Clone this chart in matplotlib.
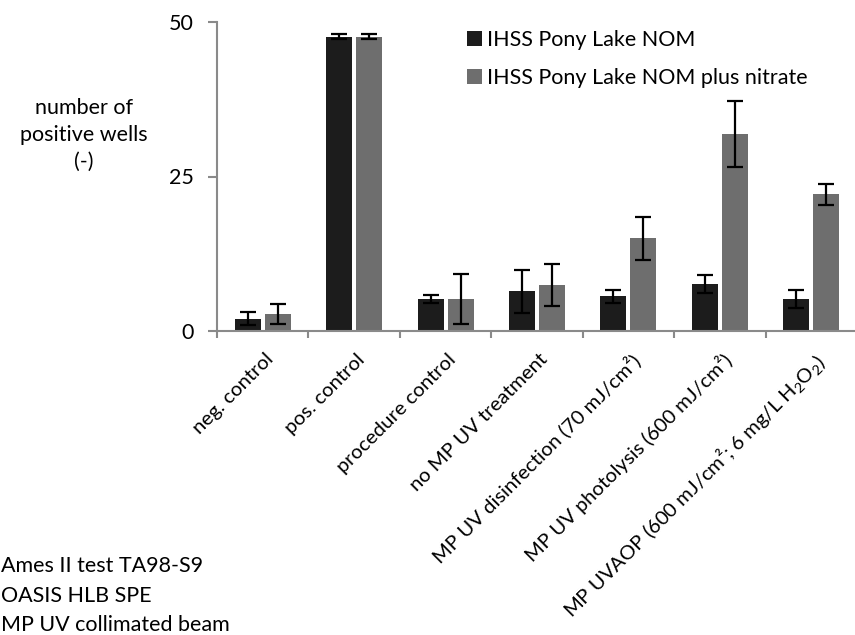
import matplotlib
matplotlib.use("Agg")
import matplotlib.pyplot as plt
from matplotlib.transforms import ScaledTranslation
import numpy as np

plt.rcParams['font.family'] = ['Lato', 'DejaVu Sans']
plt.rcParams['mathtext.fontset'] = 'custom'
plt.rcParams['mathtext.rm'] = 'Lato'
plt.rcParams['mathtext.it'] = 'Lato'
plt.rcParams['mathtext.default'] = 'regular'

categories = [
    "neg. control",
    "pos. control",
    "procedure control",
    "no MP UV treatment",
    "MP UV disinfection (70 mJ/cm\u00b2)",
    "MP UV photolysis (600 mJ/cm\u00b2)",
    "MP UVAOP (600 mJ/cm\u00b2; 6 mg/L H$_2$O$_2$)",
]
series_names = ["IHSS Pony Lake NOM", "IHSS Pony Lake NOM plus nitrate"]
nom_values = [2.0, 47.6, 5.2, 6.4, 5.6, 7.6, 5.2]
nom_errors = [1.05, 0.4, 0.6, 3.5, 1.05, 1.4, 1.4]
nitrate_values = [2.8, 47.6, 5.2, 7.5, 15.0, 31.9, 22.1]
nitrate_errors = [1.6, 0.4, 4.0, 3.4, 3.5, 5.3, 1.75]
y_ticks = [0, 25, 50]
notes = ["Ames II test TA98-S9", "OASIS HLB SPE", "MP UV collimated beam"]

bar_colors = ["#1c1c1c", "#6e6e6e"]
axis_color = "#8a8a8a"
fs = 15.5
fs_cat = 14.6

fig = plt.figure(figsize=(8.55, 6.35), dpi=100)
ax = fig.add_axes([217 / 855, 1 - 331 / 635, 640 / 855, 309 / 635])

x = np.arange(len(categories))
width = 0.285
offset = 0.164
ax.bar(x - offset, nom_values, width, color=bar_colors[0], label=series_names[0], zorder=2)
ax.bar(x + offset, nitrate_values, width, color=bar_colors[1], label=series_names[1], zorder=2)
ax.errorbar(x - offset, nom_values, yerr=nom_errors, fmt='none', ecolor='black',
            elinewidth=1.6, capsize=5.8, capthick=1.6, zorder=3)
ax.errorbar(x + offset, nitrate_values, yerr=nitrate_errors, fmt='none', ecolor='black',
            elinewidth=1.6, capsize=5.8, capthick=1.6, zorder=3)

ax.set_xlim(-0.5, len(categories) - 0.5)
ax.set_ylim(0, 50)

for s in ['top', 'right']:
    ax.spines[s].set_visible(False)
for s in ['left', 'bottom']:
    ax.spines[s].set_color(axis_color)
    ax.spines[s].set_linewidth(1.5)

ax.set_yticks(y_ticks)
ax.set_yticklabels([str(t) for t in y_ticks], fontsize=fs)
ax.tick_params(axis='y', length=6.5, width=1.5, color=axis_color, pad=10)

ax.set_xticks(np.arange(len(categories) + 1) - 0.5, minor=True)
ax.tick_params(axis='x', which='minor', length=5, width=1.5, color=axis_color)
ax.set_xticks(x)
ax.set_xticklabels(categories, rotation=45, ha='right', va='top',
                   rotation_mode='anchor', fontsize=fs_cat)
ax.tick_params(axis='x', which='major', length=0, pad=14)
shift = ScaledTranslation(0.02, 0, fig.dpi_scale_trans)
for lab in ax.get_xticklabels():
    lab.set_transform(lab.get_transform() + shift)

fig.text(84 / 855, 1 - 135 / 635, "number of\npositive wells\n(-)", ha='center', va='center',
         fontsize=fs, linespacing=1.45)

for i, note in enumerate(notes):
    fig.text(1 / 855, 1 - (566 + 29.5 * i) / 635, note, ha='left', va='center', fontsize=fs)

ax.legend(loc='upper left', bbox_to_anchor=(467 / 855, 1 - 30 / 635),
          bbox_transform=fig.transFigure, frameon=False, fontsize=fs,
          handlelength=0.7, handleheight=0.7, handletextpad=0.25, labelspacing=0.85,
          borderaxespad=0, borderpad=0)

fig.savefig("out.png", dpi=100)
